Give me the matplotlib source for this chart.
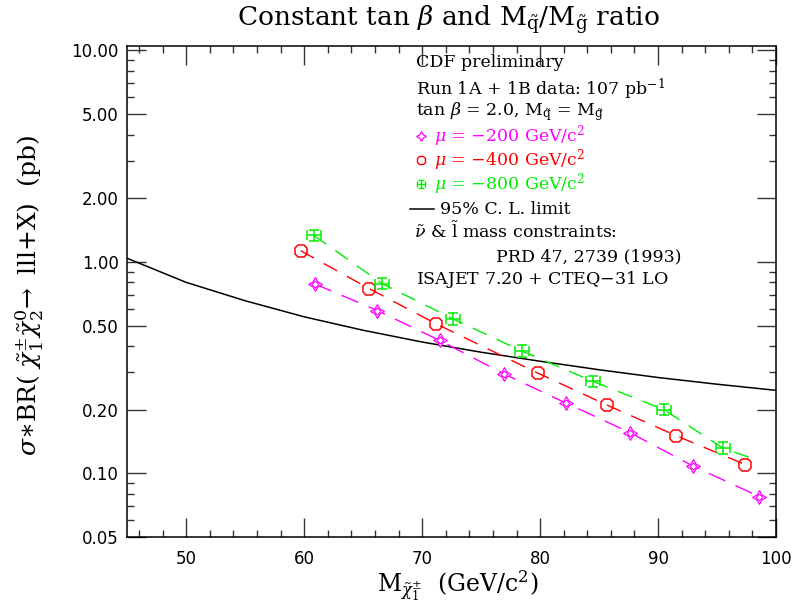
import numpy as np
import matplotlib
matplotlib.use("Agg")
import matplotlib.pyplot as plt
from matplotlib.ticker import FixedLocator, LogLocator, MultipleLocator, FormatStrFormatter, NullFormatter

plt.rcParams['mathtext.fontset'] = 'dejavuserif'

# ---------------- data ----------------
mu200_x = [60.9, 66.2, 71.5, 76.9, 82.2, 87.6, 93.0, 98.6]
mu200_y = [0.787, 0.589, 0.425, 0.296, 0.215, 0.156, 0.108, 0.0776]

mu400_x = [59.7, 65.5, 71.2, 79.8, 85.7, 91.5, 97.4]
mu400_y = [1.13, 0.748, 0.509, 0.298, 0.210, 0.151, 0.110]

mu800_x = [60.8, 66.6, 72.6, 78.5, 84.5, 90.5, 95.5]
mu800_y = [1.336, 0.790, 0.538, 0.378, 0.272, 0.200, 0.1317]
mu800_curve_x = [60.8, 66.6, 72.6, 78.5, 84.5, 90.5, 95.5, 98.3]
mu800_curve_y = [1.336, 0.790, 0.538, 0.378, 0.272, 0.200, 0.1317, 0.116]

xerr_800 = 0.6
yerr_frac_800 = 0.065
xerr_200 = 0.45
yerr_frac_200 = 0.06

limit_x = [45, 50, 55, 60, 65, 70, 75, 80, 85, 90, 95, 100]
limit_y = [1.04, 0.80, 0.655, 0.55, 0.475, 0.418, 0.374, 0.339, 0.309, 0.284, 0.264, 0.247]

y_major = [0.05, 0.1, 0.2, 0.5, 1.0, 2.0, 5.0, 10.0]

MAG = '#ff00ff'
RED = '#ff0000'
GRN = '#00ee00'

# ---------------- figure ----------------
fig = plt.figure(figsize=(7.92, 6.13), dpi=100)
ax = fig.add_axes([127.3/792, 1-537/613, (776-127.3)/792, (537-46)/613])
ax.set_yscale('log')
ax.set_xlim(45, 100)
ax.set_ylim(0.05, 10.5)

# limit curve
ax.plot(limit_x, limit_y, color='black', lw=1.1)

# dashed theory lines
ax.plot(mu200_x, mu200_y, color=MAG, lw=1.0, dashes=(13, 8))
ax.plot(mu400_x, mu400_y, color=RED, lw=1.0, dashes=(11, 8))
ax.plot(mu800_curve_x, mu800_curve_y, color=GRN, lw=1.0, dashes=(11, 8))

# markers
y200 = np.array(mu200_y)
ax.errorbar(mu200_x, mu200_y, xerr=xerr_200,
            yerr=[y200 - y200/(1+yerr_frac_200), y200*yerr_frac_200],
            fmt='none', ecolor=MAG, elinewidth=0.9, capsize=0)
ax.plot(mu200_x, mu200_y, ls='none', marker=(4, 1, 0), ms=10, mfc='white', mec=MAG, mew=0.9)
ax.plot(mu200_x, mu200_y, ls='none', marker='D', ms=3.5, mfc='white', mec=MAG, mew=0.8)

ax.plot(mu400_x, mu400_y, ls='none', marker='8', ms=10, mfc='none', mec=RED, mew=1.1)

y800 = np.array(mu800_y)
ax.errorbar(mu800_x, mu800_y, xerr=xerr_800,
            yerr=[y800 - y800/(1+yerr_frac_800), y800*yerr_frac_800],
            fmt='none', ecolor=GRN, elinewidth=1.1, capsize=3.5, capthick=1.1)

# ticks
ax.yaxis.set_major_locator(FixedLocator(y_major))
ax.yaxis.set_major_formatter(FormatStrFormatter('%.2f'))
ax.yaxis.set_minor_locator(LogLocator(base=10, subs=np.arange(1, 10)))
ax.yaxis.set_minor_formatter(NullFormatter())
ax.xaxis.set_major_locator(MultipleLocator(10))
ax.xaxis.set_minor_locator(MultipleLocator(2))
ax.xaxis.set_major_formatter(FormatStrFormatter('%d'))

ax.tick_params(which='both', direction='in', top=True, right=True, width=1.0, color='#333333')
ax.tick_params(which='major', length=14)
ax.tick_params(which='minor', length=5)
ax.tick_params(axis='y', which='major', labelsize=12, pad=6)
ax.tick_params(axis='x', which='major', labelsize=12, pad=9)
for lab in ax.get_xticklabels() + ax.get_yticklabels():
    lab.set_family('DejaVu Sans')
for sp in ax.spines.values():
    sp.set_linewidth(1.1)

# labels
fig.text(448/792, 1-20/613, r'Constant tan $\beta$ and M$_{\tilde{\mathrm{q}}}$/M$_{\tilde{\mathrm{g}}}$ ratio',
         ha='center', va='center', fontsize=19, family='DejaVu Serif')
fig.text(458/792, 1-586/613, r'M$_{\tilde{\chi}_1^{\pm}}$  (GeV/c$^2$)',
         ha='center', va='center', fontsize=17, family='DejaVu Serif')
fig.text(30/792, 1-295/613, r'$\sigma$$\ast$BR( $\tilde{\chi}_1^{\pm}\tilde{\chi}_2^{0}$$\!\rightarrow$ lll+X)  (pb)',
         ha='center', va='center', rotation=90, fontsize=18, family='DejaVu Serif')

# legend block
def fx(px):
    return (px - 127.3) / 648.7

def fy(py):
    return (537 - py) / 491

tk = dict(transform=ax.transAxes, va='center', ha='left', fontsize=12.5, family='DejaVu Serif')
ax.text(fx(416), fy(62.3), 'CDF preliminary', **tk)
ax.text(fx(416), fy(89), r'Run 1A + 1B data: 107 pb$^{-1}$', **tk)
ax.text(fx(416), fy(111.7), r'tan $\beta$ = 2.0, M$_{\tilde{\mathrm{q}}}$ = M$_{\tilde{\mathrm{g}}}$', **tk)

ax.plot([fx(421)], [fy(136)], transform=ax.transAxes, marker=(4, 1, 0), ms=7, mfc='white', mec=MAG, mew=0.9, ls='none')
ax.text(fx(434), fy(136), r'$\mu$ = $-$200 GeV/c$^2$', color=MAG, **tk)
ax.plot([fx(421)], [fy(160)], transform=ax.transAxes, marker='8', ms=6.5, mfc='none', mec=RED, mew=1.0, ls='none')
ax.text(fx(434), fy(160), r'$\mu$ = $-$400 GeV/c$^2$', color=RED, **tk)
ax.errorbar([fx(421)], [fy(184)], xerr=[0.006], yerr=[0.009], transform=ax.transAxes,
            fmt='none', ecolor=GRN, elinewidth=1.0, capsize=2, capthick=1.0)
ax.text(fx(434), fy(184), r'$\mu$ = $-$800 GeV/c$^2$', color=GRN, **tk)
ax.plot([fx(410), fx(434)], [fy(209), fy(209)], transform=ax.transAxes, color='black', lw=1.1)
ax.text(fx(440), fy(209), '95% C. L. limit', **tk)
ax.text(fx(414), fy(231.7), r'$\tilde{\nu}$ & $\tilde{\mathrm{l}}$ mass constraints:', **tk)
ax.text(fx(496), fy(256.7), 'PRD 47, 2739 (1993)', **tk)
ax.text(fx(416), fy(280), r'ISAJET 7.20 + CTEQ$-$31 LO', **tk)

fig.savefig('out.png', dpi=100)
